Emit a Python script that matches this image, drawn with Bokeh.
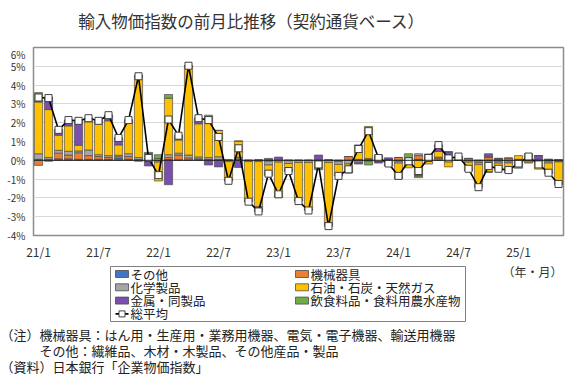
import numpy as np
from bokeh.plotting import figure
from bokeh.models import FixedTicker, Span, Range1d, Title
from bokeh.layouts import column
from bokeh.core.properties import value
from bokeh.embed import file_html
from bokeh.resources import INLINE

# ---- data ----
months = [f"{y}/{m}" for y in range(21, 26) for m in range(1, 13)][:53]
tick_months = ["21/1", "21/7", "22/1", "22/7", "23/1", "23/7", "24/1", "24/7", "25/1"]
y_ticks = [-4, -3, -2, -1, 0, 1, 2, 3, 4, 5, 6]

sonota = [0.05, -0.05, 0.08, 0.08, 0.05, 0.05, 0.05, 0.05, 0.12, 0.05, -0.05, 0.02,
          0.00, 0.05, 0.03, 0.03, 0.03, 0.02, 0.02, -0.02, 0.02, -0.02, -0.02, 0.02,
          0.02, -0.02, -0.02, -0.02, 0.00, -0.02, -0.02, 0.00, 0.02, 0.02, 0.02, 0.00,
          -0.05, 0.00, 0.05, 0.02, 0.02, 0.05, 0.02, 0.00, -0.03, -0.05, -0.05, -0.04,
          -0.05, 0.00, 0.00, -0.05, -0.04]
kikai = [-0.27, 0.05, 0.30, 0.20, 0.35, 0.20, 0.15, 0.10, 0.10, 0.15, 0.05, 0.05,
         -0.10, 0.10, 0.25, 0.10, 0.05, 0.03, 0.02, 0.02, 0.05, 0.00, 0.02, -0.05,
         0.00, 0.02, 0.00, 0.00, 0.03, 0.02, -0.05, 0.20, 0.03, 0.03, 0.05, 0.05,
         0.15, 0.05, 0.20, 0.05, 0.10, 0.05, 0.05, 0.10, -0.10, 0.15, 0.05, 0.12,
         0.05, -0.10, 0.05, 0.05, 0.03]
kagaku = [0.30, 0.10, 0.15, 0.20, 0.10, 0.30, 0.10, 0.10, 0.05, 0.15, 0.10, 0.20,
          0.10, 0.15, 0.10, 0.15, 0.10, 0.10, 0.15, -0.05, 0.10, -0.05, -0.05, -0.20,
          -0.10, -0.15, -0.10, -0.10, -0.10, -0.10, -0.15, -0.20, -0.10, 0.05, 0.10, -0.05,
          -0.10, -0.10, 0.10, 0.05, 0.05, 0.05, 0.03, -0.10, -0.10, 0.05, -0.10, -0.10,
          -0.15, 0.20, -0.05, -0.10, -0.05]
sekiyu = [2.75, 2.55, 0.80, 1.35, 0.30, 1.50, 1.70, 1.85, 0.55, 1.70, 4.30, 0.10,
          -1.00, 3.00, 0.70, 4.70, 1.76, 2.10, 1.40, -0.95, 0.85, -2.05, -2.40, -0.50,
          -1.78, -0.35, -2.00, -2.50, -0.30, -3.20, -0.55, -0.35, 0.75, 1.70, 0.10, -0.20,
          -0.75, -0.30, -0.75, -0.20, 0.30, -0.35, 0.05, -0.40, -1.15, -0.55, -0.40, -0.40,
          0.20, -0.05, -0.42, -0.50, -1.15]
kinzoku = [0.10, 0.65, 0.30, 0.30, 1.30, 0.20, 0.10, 0.30, 0.37, 0.10, 0.07, -0.30,
           0.00, -1.30, 0.25, 0.05, 0.30, -0.25, -0.35, -0.09, -0.38, -0.08, -0.27, 0.08,
           0.15, -0.05, -0.05, -0.05, 0.25, -0.20, -0.06, -0.13, -0.10, -0.05, -0.15, 0.08,
           -0.08, 0.10, -0.10, 0.20, 0.34, 0.30, 0.05, -0.05, -0.05, 0.15, 0.05, -0.10,
           -0.10, 0.00, 0.20, -0.06, -0.05]
inshoku = [0.40, 0.00, 0.00, 0.00, 0.00, 0.00, 0.00, 0.00, 0.00, 0.00, 0.00, 0.05,
           0.20, 0.20, 0.00, 0.00, 0.00, 0.15, 0.00, 0.00, 0.00, 0.00, 0.00, -0.06,
           -0.10, -0.02, 0.00, 0.00, -0.10, 0.00, 0.00, 0.00, 0.00, -0.20, 0.00, -0.05,
           0.00, 0.20, -0.07, 0.00, 0.00, 0.00, 0.00, 0.00, 0.00, -0.05, 0.00, 0.00,
           -0.12, 0.15, 0.00, 0.00, 0.00]
sou_heikin = [3.34, 3.31, 1.62, 2.14, 2.10, 2.24, 2.10, 2.40, 1.19, 2.14, 4.47, 0.12,
              -0.79, 2.17, 1.31, 5.03, 2.24, 2.14, 1.24, -1.09, 0.64, -2.20, -2.72, -0.71,
              -1.81, -0.57, -2.17, -2.67, -0.22, -3.50, -0.83, -0.48, 0.60, 1.55, 0.12, -0.17,
              -0.83, -0.05, -0.57, 0.12, 0.81, 0.10, 0.20, -0.45, -1.43, -0.30, -0.45, -0.52,
              -0.17, 0.20, -0.22, -0.66, -1.26]

series_names = ["その他", "機械器具", "化学製品", "石油・石炭・天然ガス", "金属・同製品", "飲食料品・食料用農水産物"]
series_values = [sonota, kikai, kagaku, sekiyu, kinzoku, inshoku]
series_colors = ["#4472C4", "#ED7D31", "#A5A5A5", "#FFC000", "#7B4FB0", "#70AD47"]
total_name = "総平均"

title_text = "輸入物価指数の前月比推移（契約通貨ベース）"
unit_text = "（年・月）"
notes = ["（注）機械器具：はん用・生産用・業務用機器、電気・電子機器、輸送用機器",
         "　　　その他：繊維品、木材・木製品、その他産品・製品",
         "（資料）日本銀行「企業物価指数」"]

FONT = "Noto Sans CJK JP"
OUTLINE = "#4d4d4d"
W = 582
BL, BR = 33, 19          # left / right borders (frame spans 33..563)
FW = W - BL - BR
H0, H1, F2 = 46, 216, 60

n = len(months)
idx = np.arange(n)

def blank(fh, yr):
    f = figure(frame_width=FW, frame_height=fh, output_backend="svg", toolbar_location=None,
               x_range=Range1d(BL, W - BR), y_range=yr,
               x_axis_type=None, y_axis_type=None, title_location=None,
               min_border_left=BL, min_border_right=BR, min_border_top=0, min_border_bottom=0,
               outline_line_color=None)
    f.grid.visible = False
    return f

# ---------------- title strip ----------------
p0 = blank(H0, Range1d(H0, 0))
p0.text(x=[251], y=[20], text=[title_text], text_align="center", text_baseline="middle",
        text_font=value(FONT), text_font_size=value("16.5px"), text_color="#333333")

# ---------------- main chart ----------------
p = figure(width=W, height=H1, output_backend="svg", toolbar_location=None,
           x_range=Range1d(-0.5, n - 0.5), y_range=Range1d(-4, 6), title_location=None,
           min_border_left=BL, min_border_right=BR, min_border_top=1, min_border_bottom=22,
           outline_line_color="#8c8c8c", outline_line_width=1.5)

pos_base = np.zeros(n)
neg_base = np.zeros(n)
for name, vals, color in zip(series_names, series_values, series_colors):
    v = np.array(vals, dtype=float)
    bottom = np.where(v >= 0, pos_base, neg_base + v)
    top = np.where(v >= 0, pos_base + v, neg_base)
    pos_base = pos_base + np.clip(v, 0, None)
    neg_base = neg_base + np.clip(v, None, 0)
    p.vbar(x=idx, bottom=bottom, top=top, width=0.82, fill_color=color,
           line_color=OUTLINE, line_width=0.7)

p.add_layout(Span(location=0, dimension="width", line_color="#222222", line_width=1))

p.line(idx, sou_heikin, line_color="black", line_width=1.6)
p.scatter(idx, sou_heikin, marker="square", size=7, fill_color="white",
          line_color="#404040", line_width=1)

p.xgrid.visible = False
p.ygrid.grid_line_color = "#d9d9d9"
p.ygrid.ticker = FixedTicker(ticks=y_ticks)
p.yaxis.ticker = FixedTicker(ticks=y_ticks)
p.yaxis.major_label_overrides = {t: f"{t}%" for t in y_ticks}
p.xaxis.ticker = FixedTicker(ticks=[months.index(m) for m in tick_months])
p.xaxis.major_label_overrides = {months.index(m): m for m in tick_months}
for ax in (p.xaxis, p.yaxis):
    ax.axis_line_color = None
    ax.major_tick_line_color = None
    ax.minor_tick_line_color = None
    ax.major_tick_out = 0
    ax.major_tick_in = 0
    ax.major_label_text_font = FONT
    ax.major_label_text_color = "#333333"
p.yaxis.major_label_text_font_size = "10px"
p.yaxis.major_label_standoff = 8
p.xaxis.major_label_text_font_size = "12px"
p.xaxis.major_label_standoff = 7

# ---------------- legend + notes panel ----------------
p2 = blank(F2, Range1d(F2, 0))

p2.quad(left=[110], right=[465], top=[4], bottom=[59], fill_color="white",
        line_color="#808080", line_width=1)
row_y = [11.5, 24.8, 38.1, 51.4]
col1 = ["その他", "化学製品", "金属・同製品"]
col2 = ["機械器具", "石油・石炭・天然ガス", "飲食料品・食料用農水産物"]
sw_x, sw_y, sw_c, tx_x, tx_y, tx_t = [], [], [], [], [], []
for j, nm in enumerate(col1):
    sw_x.append(121.5); sw_y.append(row_y[j]); sw_c.append(series_colors[series_names.index(nm)])
    tx_x.append(130); tx_y.append(row_y[j]); tx_t.append(nm)
for j, nm in enumerate(col2):
    sw_x.append(301.5); sw_y.append(row_y[j]); sw_c.append(series_colors[series_names.index(nm)])
    tx_x.append(310); tx_y.append(row_y[j]); tx_t.append(nm)
p2.rect(x=sw_x, y=sw_y, width=13, height=7, fill_color=sw_c, line_color=OUTLINE, line_width=0.8)
p2.line(x=[115, 128], y=[row_y[3], row_y[3]], line_color="black", line_width=1.6)
p2.scatter(x=[121.5], y=[row_y[3]], marker="square", size=6, fill_color="white",
           line_color="#404040", line_width=1)
tx_x.append(130); tx_y.append(row_y[3]); tx_t.append(total_name)
p2.text(x=tx_x, y=tx_y, text=tx_t, text_baseline="middle", text_align="left",
        text_font=value(FONT), text_font_size=value("12.5px"), text_color="#222222")

p2.text(x=[532], y=[9], text=[unit_text], text_baseline="middle", text_align="center",
        text_font=value(FONT), text_font_size=value("12px"), text_color="#333333")

p2.add_layout(Title(text="\n".join(notes), align="left", offset=-BL, standoff=2,
                    text_font=FONT, text_font_size="13px", text_font_style="normal",
                    text_line_height=0.85, text_color="#222222"), "below")

layout = column(p0, p, p2, spacing=0)
open("out.html", "w").write(file_html(layout, INLINE))
